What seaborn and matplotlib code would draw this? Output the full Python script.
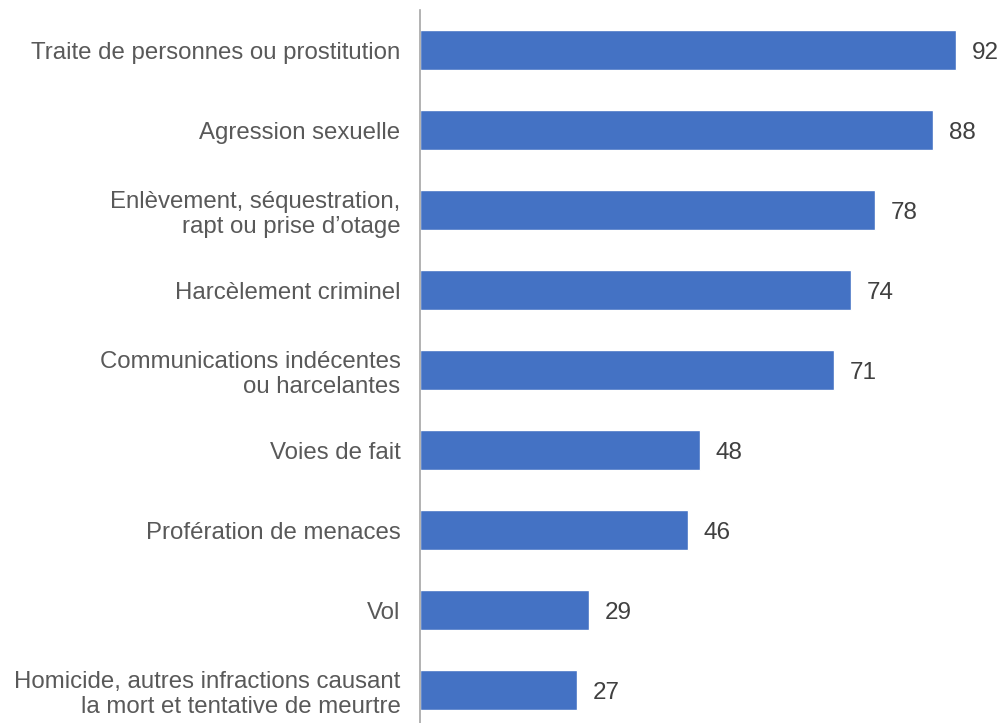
import matplotlib
matplotlib.use("Agg")
import matplotlib.pyplot as plt
import seaborn as sns
import pandas as pd

categories = [
    "Traite de personnes ou prostitution",
    "Agression sexuelle",
    "Enlèvement, séquestration,\nrapt ou prise d’otage",
    "Harcèlement criminel",
    "Communications indécentes\nou harcelantes",
    "Voies de fait",
    "Profération de menaces",
    "Vol",
    "Homicide, autres infractions causant\nla mort et tentative de meurtre",
]
values = [92, 88, 78, 74, 71, 48, 46, 29, 27]

df = pd.DataFrame({"categorie": categories, "valeur": values})

sns.set_style("white")
plt.rcParams["font.family"] = ["Liberation Sans", "DejaVu Sans"]

fig = plt.figure(figsize=(10.03, 7.23), dpi=100)
ax = fig.add_axes([420 / 1003, 0, 583 / 1003, 713 / 723])

sns.barplot(data=df, x="valeur", y="categorie", color="#4472C4",
            saturation=1, width=0.5, ax=ax)

# value labels to the right of each bar
for i, v in enumerate(values):
    ax.text(v + 2.7, i, f"{v}", va="center_baseline", ha="left",
            fontsize=17.5, color="#404040")

ax.set_xlim(0, 100)
ax.set_ylim(8.41, -0.5)
ax.set_xlabel("")
ax.set_ylabel("")
ax.set_xticks([])
ax.tick_params(axis="y", length=0, pad=14, labelsize=17.3, labelcolor="#595959")
for lbl in ax.get_yticklabels():
    lbl.set_multialignment("right")

for side in ["top", "right", "bottom"]:
    ax.spines[side].set_visible(False)
ax.spines["left"].set_color("#A6A6A6")
ax.spines["left"].set_linewidth(1.2)

fig.savefig("out.png", dpi=100)
